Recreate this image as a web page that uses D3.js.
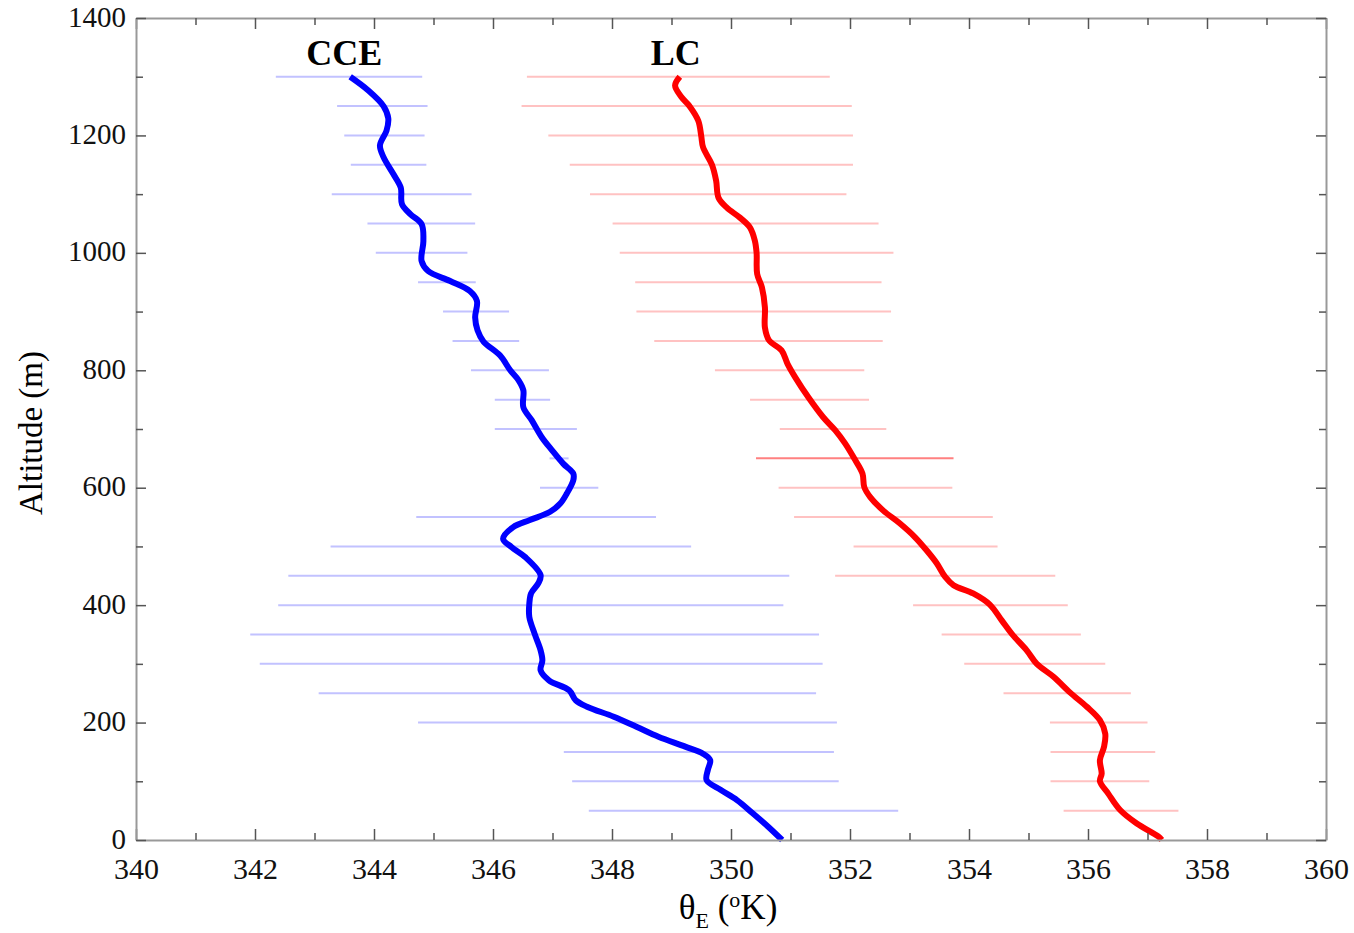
<!DOCTYPE html>
<html>
<head>
<meta charset="utf-8">
<script src="https://cdn.jsdelivr.net/npm/d3@7"></script>
<style>
  body { margin: 0; background: #fff; }
  svg text { font-family: "Liberation Serif", "Times New Roman", serif; }
</style>
</head>
<body>
<svg id="chart"></svg>
<script>
// CCE profile: altitude (m) and theta_E (K)
const cceAlt = [1300, 1277, 1250, 1229, 1208, 1183, 1163, 1135, 1111, 1083, 1066, 1049, 1020, 986, 969, 952, 935, 918, 890, 868, 849, 825, 800, 783, 766, 737, 715, 686, 664, 641, 624, 613, 590, 573, 559, 545, 533, 513, 499, 482, 451, 437, 420, 402, 380, 351, 323, 306, 289, 272, 255, 238, 227, 210, 193, 176, 159, 147, 136, 119, 102, 85, 68, 46, 23, 0];
const cceTheta = [343.60, 343.90, 344.16, 344.24, 344.21, 344.10, 344.16, 344.32, 344.45, 344.47, 344.61, 344.80, 344.83, 344.80, 344.91, 345.28, 345.61, 345.73, 345.70, 345.74, 345.84, 346.12, 346.29, 346.43, 346.51, 346.51, 346.65, 346.82, 346.99, 347.18, 347.35, 347.35, 347.24, 347.13, 346.96, 346.62, 346.34, 346.17, 346.31, 346.54, 346.80, 346.76, 346.64, 346.61, 346.61, 346.70, 346.80, 346.83, 346.80, 346.94, 347.28, 347.39, 347.58, 348.03, 348.41, 348.78, 349.23, 349.53, 349.65, 349.61, 349.59, 349.83, 350.10, 350.36, 350.62, 350.86];

// LC profile
const lcAlt = [1300, 1285, 1265, 1249, 1225, 1199, 1180, 1150, 1123, 1094, 1077, 1060, 1043, 1021, 1000, 964, 941, 907, 873, 851, 834, 811, 788, 754, 720, 698, 675, 650, 624, 601, 584, 561, 539, 516, 493, 471, 448, 434, 420, 401, 374, 351, 323, 300, 278, 251, 227, 204, 181, 159, 136, 113, 100, 79, 51, 28, 6, 0];
const lcTheta = [349.14, 349.06, 349.17, 349.31, 349.45, 349.50, 349.53, 349.68, 349.75, 349.79, 349.93, 350.15, 350.32, 350.40, 350.43, 350.44, 350.52, 350.57, 350.57, 350.64, 350.85, 350.95, 351.08, 351.30, 351.55, 351.75, 351.92, 352.07, 352.21, 352.24, 352.34, 352.56, 352.84, 353.09, 353.29, 353.46, 353.60, 353.74, 354.07, 354.35, 354.55, 354.72, 354.97, 355.14, 355.42, 355.70, 355.98, 356.20, 356.29, 356.27, 356.20, 356.23, 356.20, 356.34, 356.54, 356.82, 357.18, 357.24];

// spread bars every 50 m
const barAlt = [1300, 1250, 1200, 1150, 1100, 1050, 1000, 950, 900, 850, 800, 750, 700, 650, 600, 550, 500, 450, 400, 350, 300, 250, 200, 150, 100, 50];
const cceLow = [342.35, 343.38, 343.50, 343.61, 343.29, 343.89, 344.03, 344.74, 345.16, 345.32, 345.63, 346.03, 346.03, 346.95, 346.79, 344.71, 343.27, 342.56, 342.39, 341.92, 342.08, 343.07, 344.74, 347.19, 347.33, 347.61];
const cceHigh = [344.81, 344.90, 344.85, 344.88, 345.64, 345.70, 345.57, 345.71, 346.27, 346.44, 346.94, 346.96, 347.41, 347.27, 347.77, 348.74, 349.33, 350.98, 350.88, 351.48, 351.54, 351.43, 351.78, 351.73, 351.81, 352.81];
const lcLow = [346.57, 346.48, 346.93, 347.29, 347.63, 348.01, 348.13, 348.39, 348.41, 348.71, 349.73, 350.32, 350.82, 350.42, 350.80, 351.06, 352.06, 351.75, 353.06, 353.54, 353.92, 354.58, 355.36, 355.37, 355.37, 355.59];
const lcHigh = [351.66, 352.03, 352.05, 352.05, 351.94, 352.48, 352.73, 352.53, 352.69, 352.55, 352.24, 352.32, 352.61, 353.74, 353.72, 354.40, 354.48, 355.45, 355.66, 355.88, 356.29, 356.72, 357.00, 357.13, 357.03, 357.52];

const xTicks = [340, 342, 344, 346, 348, 350, 352, 354, 356, 358, 360];
const yTicks = [0, 200, 400, 600, 800, 1000, 1200, 1400];

const margin = { top: 18, right: 28, bottom: 93, left: 136 };
const W = 1354, H = 933;
const width = W - margin.left - margin.right;
const height = H - margin.top - margin.bottom;
const serif = '"Liberation Serif", "Times New Roman", serif';

const svg = d3.select('#chart').attr('width', W).attr('height', H);
const chart = svg.append('g').attr('transform', `translate(${margin.left},${margin.top})`);

const x = d3.scaleLinear().domain([340, 360]).range([0, width]);
const y = d3.scaleLinear().domain([0, 1400]).range([height, 0]);

// spread bars
function drawBars(low, high, color, cls) {
  chart.selectAll('line.' + cls)
    .data(barAlt)
    .join('line')
    .attr('class', cls)
    .attr('x1', (d, i) => x(low[i]))
    .attr('x2', (d, i) => x(high[i]))
    .attr('y1', d => y(d))
    .attr('y2', d => y(d))
    .attr('stroke', (d) => d === 650 && cls === 'lcbar' ? '#ff8080' : color)
    .attr('stroke-width', 2);
}
drawBars(cceLow, cceHigh, '#c2c2ff', 'ccebar');
drawBars(lcLow, lcHigh, '#ffc2c2', 'lcbar');

const line = d3.line()
  .curve(d3.curveCatmullRom.alpha(0.5))
  .x(d => x(d[1]))
  .y(d => y(d[0]));
chart.append('path')
  .datum(d3.zip(cceAlt, cceTheta))
  .attr('d', line)
  .attr('fill', 'none')
  .attr('stroke', '#0000ff')
  .attr('stroke-width', 6)
  .attr('stroke-linejoin', 'round');
chart.append('path')
  .datum(d3.zip(lcAlt, lcTheta))
  .attr('d', line)
  .attr('fill', 'none')
  .attr('stroke', '#ff0000')
  .attr('stroke-width', 6)
  .attr('stroke-linejoin', 'round');

// frame with inward ticks on all four sides
const axisColor = '#555';
const xMinor = d3.range(341, 360, 2);
const yMinor = d3.range(100, 1400, 200);

function addAxis(axis, tr) {
  const g = chart.append('g').attr('transform', tr).call(axis);
  g.attr('font-family', serif);
  g.select('.domain').attr('stroke', '#999').attr('stroke-width', 2);
  g.selectAll('.tick line').attr('stroke', axisColor).attr('stroke-width', 1.5);
  return g;
}

const xb = addAxis(d3.axisBottom(x).tickValues(xTicks).tickSize(-11).tickSizeOuter(0).tickPadding(18), `translate(0,${height})`);
xb.selectAll('.tick text').attr('font-size', 30).attr('fill', '#111').attr('font-family', serif);
addAxis(d3.axisBottom(x).tickValues(xMinor).tickSize(-7).tickSizeOuter(0).tickFormat(''), `translate(0,${height})`).select('.domain').remove();
addAxis(d3.axisTop(x).tickValues(xTicks).tickSize(-11).tickSizeOuter(0).tickFormat(''), 'translate(0,0)');
addAxis(d3.axisTop(x).tickValues(xMinor).tickSize(-7).tickSizeOuter(0).tickFormat(''), 'translate(0,0)').select('.domain').remove();

const yl = addAxis(d3.axisLeft(y).tickValues(yTicks).tickSize(-10).tickSizeOuter(0).tickPadding(10).tickFormat(d3.format('d')), 'translate(0,0)');
yl.selectAll('.tick text').attr('font-size', 29).attr('dy', '0.28em').attr('fill', '#111').attr('font-family', serif);
addAxis(d3.axisLeft(y).tickValues(yMinor).tickSize(-7).tickSizeOuter(0).tickFormat(''), 'translate(0,0)').select('.domain').remove();
addAxis(d3.axisRight(y).tickValues(yTicks).tickSize(-10).tickSizeOuter(0).tickFormat(''), `translate(${width},0)`);
addAxis(d3.axisRight(y).tickValues(yMinor).tickSize(-7).tickSizeOuter(0).tickFormat(''), `translate(${width},0)`).select('.domain').remove();

// series labels
chart.append('text')
  .attr('x', x(343.5)).attr('y', y(1320))
  .attr('text-anchor', 'middle')
  .attr('font-family', serif)
  .attr('font-size', 36).attr('font-weight', 'bold')
  .text('CCE');
chart.append('text')
  .attr('x', x(349.07)).attr('y', y(1320))
  .attr('text-anchor', 'middle')
  .attr('font-family', serif)
  .attr('font-size', 36).attr('font-weight', 'bold')
  .text('LC');

// axis titles
svg.append('text')
  .attr('transform', `translate(42,${margin.top + height / 2 + 4}) rotate(-90)`)
  .attr('text-anchor', 'middle')
  .attr('font-family', serif)
  .attr('font-size', 33)
  .text('Altitude (m)');

const xt = svg.append('text')
  .attr('x', margin.left + x(349.95))
  .attr('y', 919)
  .attr('text-anchor', 'middle')
  .attr('font-family', serif)
  .attr('font-size', 35);
xt.append('tspan').text('θ');
xt.append('tspan').attr('font-size', 22).attr('dy', 9).text('E');
xt.append('tspan').attr('dy', -9).text(' (');
xt.append('tspan').attr('font-size', 22).attr('dy', -12).text('o');
xt.append('tspan').attr('dy', 12).text('K)');
</script>
</body>
</html>
